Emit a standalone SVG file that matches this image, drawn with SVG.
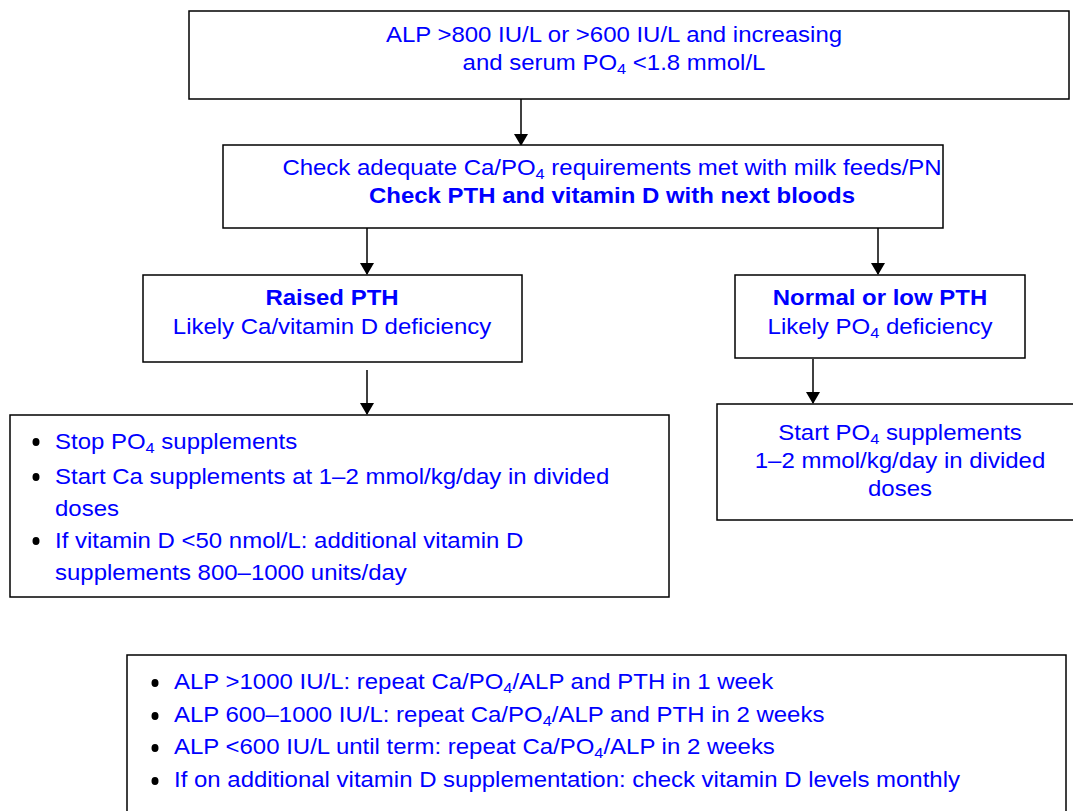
<svg xmlns="http://www.w3.org/2000/svg" width="1073" height="811" viewBox="0 0 1073 811">
<style>
.box{fill:#fff;stroke:#000;stroke-width:1.5}
.t{font-family:"Liberation Sans",Arial,sans-serif;font-size:22px;fill:#0000ff}
.c{text-anchor:middle}
.b{font-weight:bold}
.s{font-size:15px}
.ln{stroke:#000;stroke-width:1.5;fill:none}
.dot{fill:#000}
</style>
<defs>
<marker id="ah" markerWidth="12" markerHeight="14" refX="11" refY="7" orient="auto" markerUnits="userSpaceOnUse"><path d="M0,0 L12,7 L0,14 z" fill="#000"/></marker>
</defs>
<rect width="1073" height="811" fill="#fff"/>
<g id="connectors">
<line class="ln" x1="521" y1="99" x2="521" y2="145" marker-end="url(#ah)"/>
<line class="ln" x1="367" y1="228" x2="367" y2="274" marker-end="url(#ah)"/>
<line class="ln" x1="878" y1="228" x2="878" y2="274" marker-end="url(#ah)"/>
<line class="ln" x1="367" y1="370" x2="367" y2="414" marker-end="url(#ah)"/>
<line class="ln" x1="813" y1="359" x2="813" y2="403" marker-end="url(#ah)"/>
</g>
<g id="n1">
<rect class="box" x="189" y="11" width="880" height="88"/>
<g transform="translate(614,0) scale(1.09,1)">
<text class="t c" x="0" y="42">ALP &gt;800 IU/L or &gt;600 IU/L and increasing</text>
<text class="t c" x="0" y="70">and serum PO<tspan class="s" dy="4">4</tspan><tspan dy="-4"> &lt;1.8 mmol/L</tspan></text>
</g>
</g>
<g id="n2">
<rect class="box" x="223" y="145" width="720" height="83"/>
<g transform="translate(612,0) scale(1.09,1)">
<text class="t c" x="0" y="175">Check adequate Ca/PO<tspan class="s" dy="4">4</tspan><tspan dy="-4"> requirements met with milk feeds/PN</tspan></text>
<text class="t c b" x="0" y="203">Check PTH and vitamin D with next bloods</text>
</g>
</g>
<g id="n3">
<rect class="box" x="143" y="275" width="379" height="87"/>
<g transform="translate(332,0) scale(1.09,1)">
<text class="t c b" x="0" y="305">Raised PTH</text>
<text class="t c" x="0" y="334">Likely Ca/vitamin D deficiency</text>
</g>
</g>
<g id="n4">
<rect class="box" x="735" y="275" width="290" height="83"/>
<g transform="translate(880,0) scale(1.09,1)">
<text class="t c b" x="0" y="305">Normal or low PTH</text>
<text class="t c" x="0" y="334">Likely PO<tspan class="s" dy="4">4</tspan><tspan dy="-4"> deficiency</tspan></text>
</g>
</g>
<g id="n5">
<rect class="box" x="10" y="415" width="659" height="182"/>
<ellipse class="dot" cx="36" cy="442" rx="3.5" ry="4"/>
<ellipse class="dot" cx="36" cy="477" rx="3.5" ry="4"/>
<ellipse class="dot" cx="36" cy="541" rx="3.5" ry="4"/>
<g transform="translate(55,0) scale(1.09,1)">
<text class="t" x="0" y="449">Stop PO<tspan class="s" dy="4">4</tspan><tspan dy="-4"> supplements</tspan></text>
<text class="t" x="0" y="484">Start Ca supplements at 1–2 mmol/kg/day in divided</text>
<text class="t" x="0" y="516">doses</text>
<text class="t" x="0" y="548">If vitamin D &lt;50 nmol/L: additional vitamin D</text>
<text class="t" x="0" y="580">supplements 800–1000 units/day</text>
</g>
</g>
<g id="n6">
<rect class="box" x="717" y="404" width="360" height="116"/>
<g transform="translate(900,0) scale(1.09,1)">
<text class="t c" x="0" y="440">Start PO<tspan class="s" dy="4">4</tspan><tspan dy="-4"> supplements</tspan></text>
<text class="t c" x="0" y="468">1–2 mmol/kg/day in divided</text>
<text class="t c" x="0" y="496">doses</text>
</g>
</g>
<g id="n7">
<rect class="box" x="127" y="655" width="939" height="170"/>
<ellipse class="dot" cx="155" cy="683" rx="3.5" ry="4"/>
<ellipse class="dot" cx="155" cy="716" rx="3.5" ry="4"/>
<ellipse class="dot" cx="155" cy="748" rx="3.5" ry="4"/>
<ellipse class="dot" cx="155" cy="781" rx="3.5" ry="4"/>
<g transform="translate(174,0) scale(1.09,1)">
<text class="t" x="0" y="689">ALP &gt;1000 IU/L: repeat Ca/PO<tspan class="s" dy="4">4</tspan><tspan dy="-4">/ALP and PTH in 1 week</tspan></text>
<text class="t" x="0" y="722">ALP 600–1000 IU/L: repeat Ca/PO<tspan class="s" dy="4">4</tspan><tspan dy="-4">/ALP and PTH in 2 weeks</tspan></text>
<text class="t" x="0" y="754">ALP &lt;600 IU/L until term: repeat Ca/PO<tspan class="s" dy="4">4</tspan><tspan dy="-4">/ALP in 2 weeks</tspan></text>
<text class="t" x="0" y="787">If on additional vitamin D supplementation: check vitamin D levels monthly</text>
</g>
</g>
</svg>
